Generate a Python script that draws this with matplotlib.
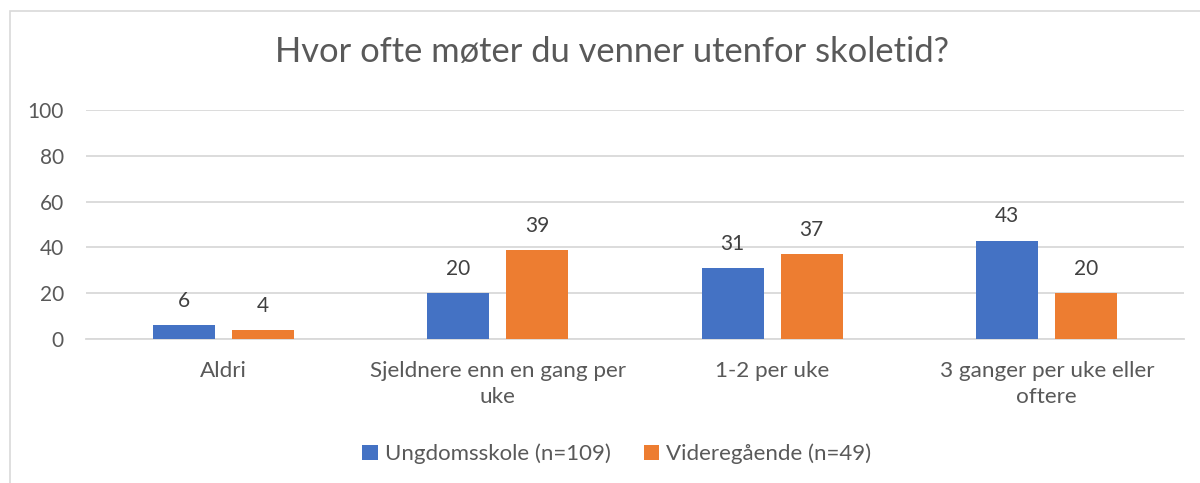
import matplotlib
matplotlib.use("Agg")
import matplotlib.pyplot as plt
import numpy as np
from matplotlib.patches import Rectangle, Patch

categories = ["Aldri", "Sjeldnere enn en gang per\nuke", "1-2 per uke", "3 ganger per uke eller\noftere"]
series_names = ["Ungdomsskole (n=109)", "Videregående (n=49)"]
ungdom = [6, 20, 31, 43]
videre = [4, 39, 37, 20]
yticks = [0, 20, 40, 60, 80, 100]
title = "Hvor ofte møter du venner utenfor skoletid?"

BLUE = "#4472C4"
ORANGE = "#ED7D31"
TXT = "#595959"
LBL = "#404040"
GRID = "#D9D9D9"

plt.rcParams['font.family'] = ['Lato', 'DejaVu Sans']

W, H = 1200, 483
fig = plt.figure(figsize=(W / 100, H / 100), dpi=100)

# chart border
fig.patches.append(Rectangle((10 / W, 0 - 0.05), 1.2, (H - 11) / H + 0.05,
                             transform=fig.transFigure, fill=False,
                             edgecolor=GRID, linewidth=1.2, zorder=0))

ax = fig.add_axes([86 / W, 1 - 339 / H, (1184 - 86) / W, (339 - 110) / H])
x = np.arange(len(categories))
bw = 0.226
off = 0.144
b1 = ax.bar(x - off, ungdom, bw, color=BLUE, zorder=3)
b2 = ax.bar(x + off, videre, bw, color=ORANGE, zorder=3)

for bars, vals in ((b1, ungdom), (b2, videre)):
    for r, v in zip(bars, vals):
        ax.annotate(f"{v}", (r.get_x() + r.get_width() / 2, r.get_height()),
                    xytext=(0, 13), textcoords="offset points",
                    ha="center", va="baseline", fontsize=15, color=LBL)

ax.set_xlim(-0.5, len(categories) - 0.5)
ax.set_ylim(0, 100)
ax.set_yticks(yticks)
ax.set_yticklabels([str(t) for t in yticks])
ax.set_xticks(x)
ax.set_xticklabels(categories, linespacing=1.38)
ax.tick_params(axis="y", length=0, pad=16, labelsize=15, labelcolor=TXT)
ax.tick_params(axis="x", length=0, pad=15.5, labelsize=16.2, labelcolor=TXT)
ax.grid(axis="y", color=GRID, linewidth=1.3, zorder=0)
for s in ["top", "right", "left"]:
    ax.spines[s].set_visible(False)
ax.spines["bottom"].set_color(GRID)
ax.spines["bottom"].set_linewidth(1.3)

fig.text(0.51, 1 - 52 / H, title, ha="center", va="center", fontsize=24.8, color=TXT)

handles = [Patch(facecolor=BLUE), Patch(facecolor=ORANGE)]
fig.legend(handles, series_names, loc="center", bbox_to_anchor=(0.514, 1 - 454 / H),
           ncol=2, frameon=False, fontsize=16, labelcolor=TXT,
           handlelength=0.7, handleheight=0.7, handletextpad=0.3, columnspacing=1.5)

fig.savefig("out.png", dpi=100)
